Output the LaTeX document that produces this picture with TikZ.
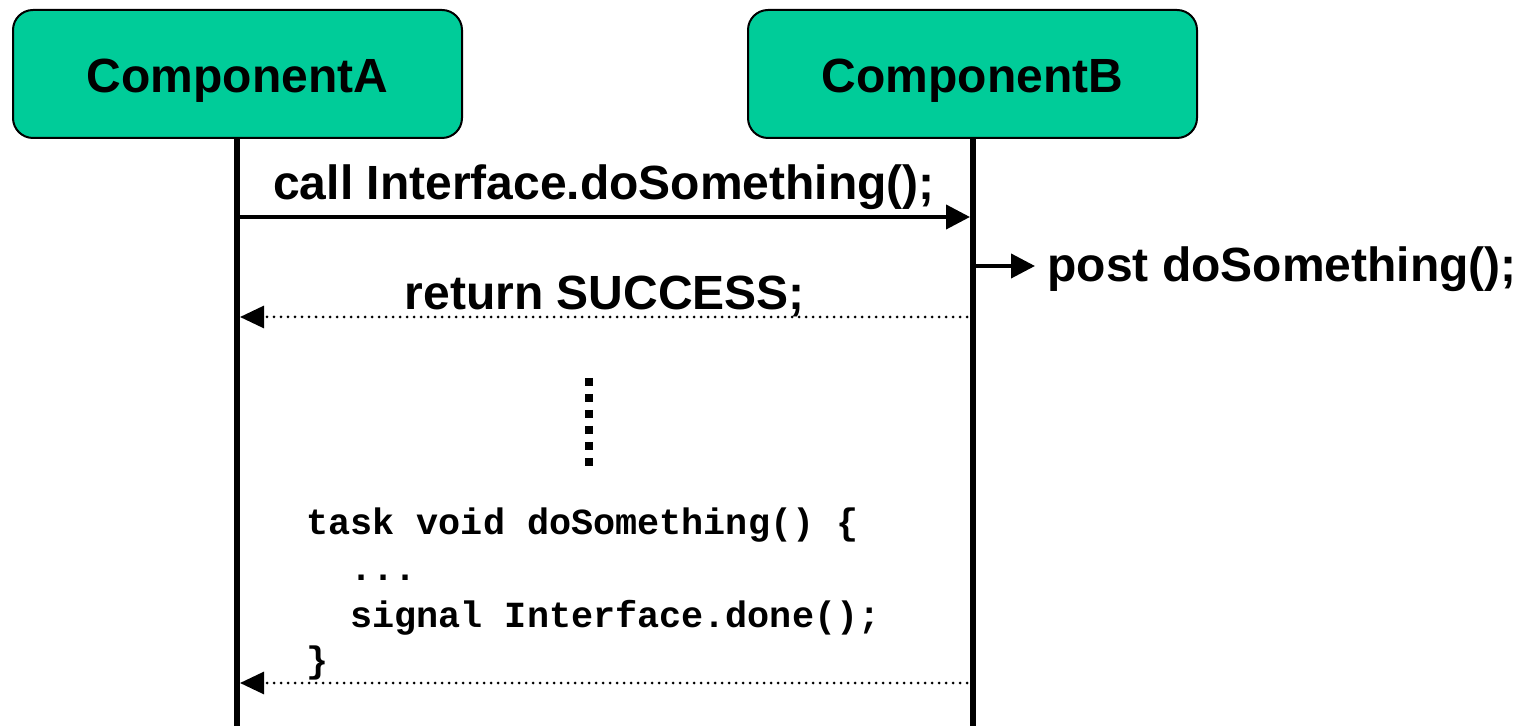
\documentclass[tikz,border=0pt]{standalone}
\usepackage{fontspec}
\setmainfont{Liberation Sans}
\newfontfamily\codefont{Liberation Mono}
\usetikzlibrary{arrows.meta}
\definecolor{compgreen}{RGB}{0,204,153}
\begin{document}
\begin{tikzpicture}[x=0.5pt,y=-0.5pt,
  compbox/.style={draw=black, line width=1pt, fill=compgreen, rounded corners=10pt,
    minimum width=224.5pt, minimum height=64pt, inner sep=0pt,
    text height=19pt, text depth=0pt, font=\fontsize{24}{28}\selectfont\bfseries},
  lifeline/.style={line width=3pt},
  tipA/.style={-{Triangle[length=12pt,width=12pt]}},
  msg/.style={tipA, line width=2pt},
  retmsg/.style={-{Triangle[length=12pt,width=11pt]}, line width=1.5pt, line cap=round, dash pattern=on 0pt off 3.5pt},
  lbl/.style={anchor=base, inner sep=0pt, font=\fontsize{24}{28}\selectfont\bfseries},
  code/.style={anchor=base west, inner sep=0pt, font=\codefont\fontsize{18.4}{22}\selectfont\bfseries}
]
\useasboundingbox (0,0) rectangle (1531,726);

% components
\node[compbox] (A) at (237.5,74) {ComponentA};
\node[compbox] (B) at (972.5,74) {ComponentB};

% lifeline ends
\coordinate (Aend) at (237,726);
\coordinate (Bend) at (973,726);
\draw[lifeline] (237,138) -- (Aend);
\draw[lifeline] (973,138) -- (Bend);

% message points
\coordinate (a1) at (237,217);
\coordinate (b1) at (973,217);
\coordinate (b2) at (973,266);
\coordinate (p2) at (1035,266);
\coordinate (a3) at (237,317);
\coordinate (b3) at (973,317);
\coordinate (a4) at (237,683);
\coordinate (b4) at (973,683);

\draw[msg, shorten >=1.5pt] (a1) -- (b1);
\node[lbl] (callL) at (604,200) {call Interface.doSomething();};

\draw[msg, shorten <=1.5pt] (b2) -- (p2);
\node[lbl, anchor=base west] (postL) at (1047,282) {post doSomething();};

\draw[retmsg, shorten >=1.5pt, shorten <=3pt] (b3) -- (a3);
\node[lbl] (retL) at (605,310) {return SUCCESS;};

% vertical ellipsis
\coordinate (v1) at (589,378);
\coordinate (v2) at (589,466);
\draw[line width=4pt, dash pattern=on 4pt off 4pt] (v1) -- (v2);

% code
\node[code] (c1) at (306,535) {task void doSomething() \{};
\node[code] (c2) at (350,581) {...};
\node[code] (c3) at (350,627) {signal Interface.done();};
\node[code] (c4) at (306,672) {\}};

\draw[retmsg, shorten >=1.5pt, shorten <=3pt] (b4) -- (a4);
\end{tikzpicture}
\end{document}
